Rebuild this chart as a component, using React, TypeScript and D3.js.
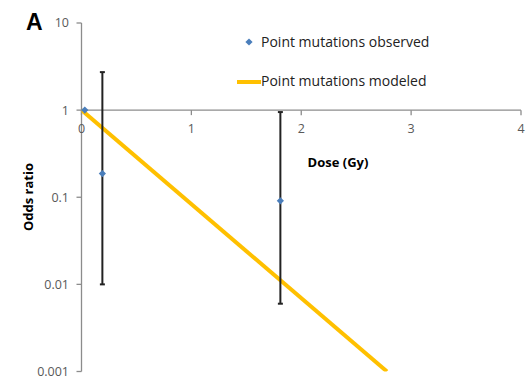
import React from "react";
import * as d3 from "d3";

const yTicks = [10, 1, 0.1, 0.01, 0.001];
const yTickLabels = ["10", "1", "0.1", "0.01", "0.001"];
const xTicks = [0, 1, 2, 3, 4];

const obsDose = [0.03, 0.19, 1.81];
const obsOR = [1, 0.187, 0.091];
const obsLow = [null, 0.01, 0.006];
const obsHigh = [null, 2.73, 0.95];

const modelDose = [0, 2.78];
const modelOR = [1, 0.001];

export default function App() {
  const W = 529, H = 379;
  const x = d3.scaleLinear().domain([0, 4]).range([81.5, 521]);
  const y = d3.scaleLog().domain([0.001, 10]).range([371.5, 23]);
  const axisY = y(1);
  const tickColor = "#8c8c8c";
  const labelColor = "#595959";
  const font = "'Open Sans', 'DejaVu Sans', sans-serif";
  const line = d3.line<number>().x((_, i) => x(modelDose[i])).y((_, i) => y(modelOR[i]));
  const diamond = d3.symbol().type(d3.symbolSquare).size(26)();

  return (
    <svg width={W} height={H} style={{ position: "absolute", left: 0, top: 0, background: "#fff" }}>
      <defs>
        <clipPath id="plot">
          <rect x={x(0)} y={y(10)} width={x(4) - x(0)} height={y(0.001) - y(10)} />
        </clipPath>
      </defs>
      <text x={26} y={30} fontFamily="'Liberation Sans', Arial, sans-serif" fontWeight="bold" fontSize={23} fill="#000">A</text>
      {/* Y axis */}
      <line x1={x(0)} x2={x(0)} y1={y(10)} y2={y(0.001)} stroke={tickColor} strokeWidth={1.3} />
      {yTicks.map((t, i) => (
        <g key={t}>
          <line x1={x(0) - 5} x2={x(0)} y1={y(t)} y2={y(t)} stroke={tickColor} strokeWidth={1.3} />
          <text x={69} y={y(t)} dy="0.35em" textAnchor="end" fontFamily={font} fontSize={12.5} fill={labelColor}>{yTickLabels[i]}</text>
        </g>
      ))}
      {/* X axis at OR = 1 */}
      <line x1={x(0)} x2={x(4)} y1={axisY} y2={axisY} stroke={tickColor} strokeWidth={1.3} />
      {xTicks.map((t) => (
        <g key={t}>
          <line x1={x(t)} x2={x(t)} y1={axisY} y2={axisY + 5} stroke={tickColor} strokeWidth={1.3} />
          <text x={x(t)} y={axisY + 18} dy="0.35em" textAnchor="middle" fontFamily={font} fontSize={12.5} fill={labelColor}>{t}</text>
        </g>
      ))}
      <text x={338} y={162} dy="0.35em" textAnchor="middle" fontFamily={font} fontWeight="bold" fontSize={13} fill="#000">Dose (Gy)</text>
      <text transform={`translate(28,197) rotate(-90)`} dy="0.35em" textAnchor="middle" fontFamily={font} fontWeight="bold" fontSize={13} fill="#000">Odds ratio</text>
      {/* Model line */}
      <path d={line(modelDose) || ""} clipPath="url(#plot)" fill="none" stroke="#FFC000" strokeWidth={4} />
      {/* Error bars */}
      {obsDose.map((d, i) =>
        obsLow[i] != null && obsHigh[i] != null ? (
          <g key={"e" + i} stroke="#222" strokeWidth={2}>
            <line x1={x(d)} x2={x(d)} y1={y(obsLow[i] as number)} y2={y(obsHigh[i] as number)} />
            <line x1={x(d) - 2.5} x2={x(d) + 2.5} y1={y(obsLow[i] as number)} y2={y(obsLow[i] as number)} />
            <line x1={x(d) - 2.5} x2={x(d) + 2.5} y1={y(obsHigh[i] as number)} y2={y(obsHigh[i] as number)} />
          </g>
        ) : null
      )}
      {/* Observed points */}
      {obsDose.map((d, i) => (
        <path key={"p" + i} d={diamond || ""} transform={`translate(${x(d)},${y(obsOR[i])}) rotate(45)`} fill="#4A7EBB" />
      ))}
      {/* Legend */}
      <path d={diamond || ""} transform="translate(249,42) rotate(45)" fill="#4A7EBB" />
      <text x={261} y={42} dy="0.35em" fontFamily={font} fontSize={14} fill="#222">Point mutations observed</text>
      <line x1={237} x2={261} y1={82} y2={82} stroke="#FFC000" strokeWidth={4} />
      <text x={261} y={81} dy="0.35em" fontFamily={font} fontSize={14} fill="#222">Point mutations modeled</text>
    </svg>
  );
}
